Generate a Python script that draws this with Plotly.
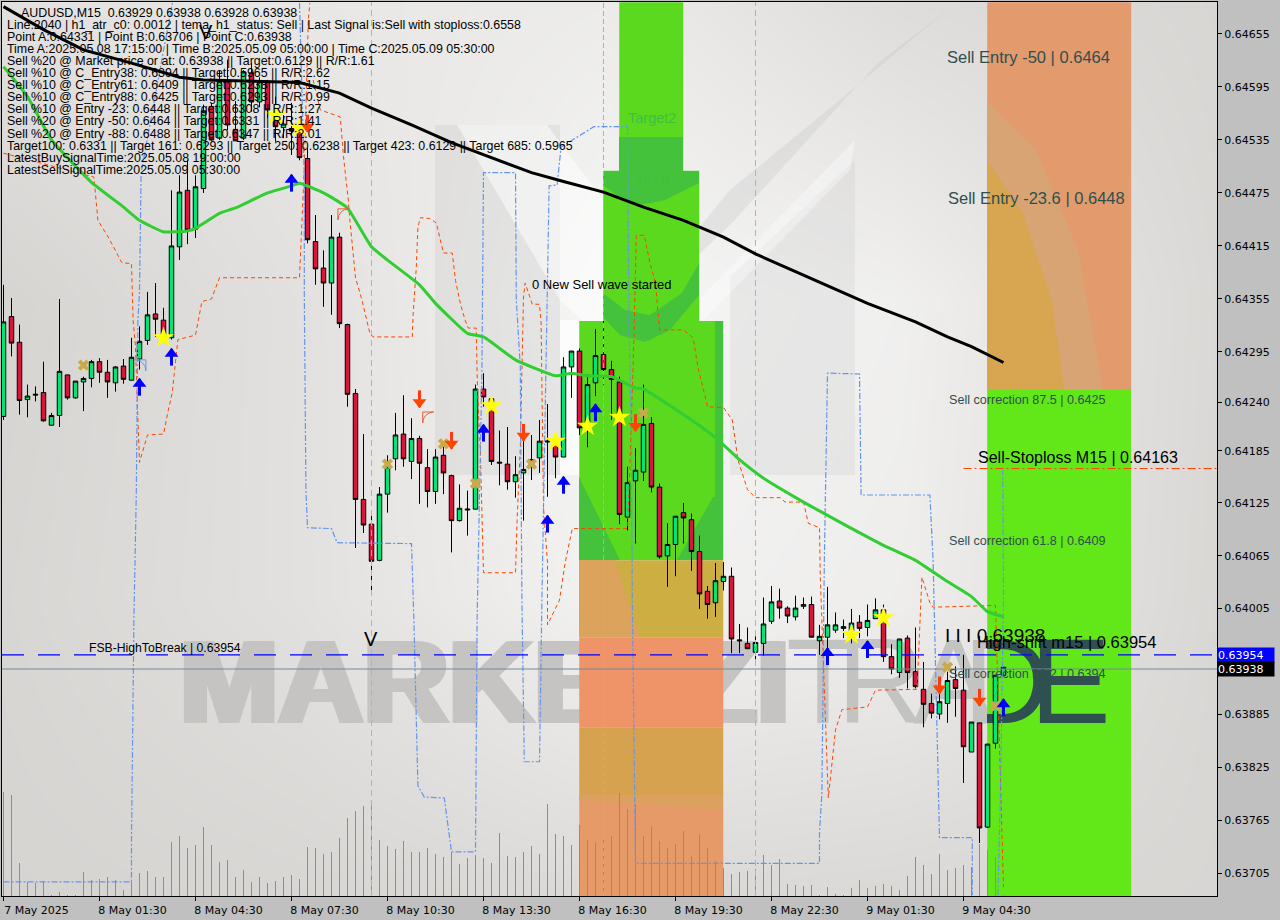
import plotly.graph_objects as go

# ---------- data ----------
opens = [.64222,.64335,.64306,.64241,.64246,.64249,.64212,.64223,.64269,.64243,.64261,.64265,.64284,.64272,.64260,.64279,.64263,.64287,.64308,.64338,.64331,.64311,.64414,.64478,.64434,.64480,.64573,.64537,.64601,.64547,.64537,.64611,.64578,.64600,.64560,.64549,.64548,.64544,.64514,.64420,.64390,.64373,.64425,.64326,.64248,.64128,.64100,.64059,.64134,.64174,.64202,.64171,.64197,.64164,.64137,.64178,.64155,.64104,.64116,.64117,.64253,.64242,.64169,.64168,.64148,.64158,.64173,.64175,.64193,.64192,.64176,.64278,.64296,.64215,.64260,.64292,.64275,.64261,.64108,.64149,.64159,.64214,.64142,.64064,.64077,.64113,.64105,.64069,.64024,.64011,.64035,.64041,.63969,.63965,.63955,.63965,.63990,.64013,.64005,.63995,.64007,.64009,.63968,.63972,.63980,.63982,.63978,.63989,.63983,.63993,.64003,.63950,.63932,.63971,.63933,.63913,.63897,.63885,.63897,.63924,.63912,.63842,.63875,.63757,.63852,.63929]
highs = [.64371,.64356,.64326,.64258,.64256,.64284,.64226,.64355,.64269,.64262,.64267,.64286,.64288,.64286,.64279,.64287,.64311,.64324,.64363,.64373,.64345,.64478,.64495,.64512,.64495,.64575,.64577,.64614,.64626,.64579,.64614,.64622,.64606,.64603,.64584,.64563,.64577,.64560,.64526,.64450,.64410,.64450,.64430,.64327,.64253,.64202,.64114,.64142,.64178,.64226,.64246,.64220,.64200,.64185,.64185,.64188,.64156,.64145,.64138,.64258,.64271,.64242,.64206,.64210,.64177,.64201,.64201,.64218,.64236,.64194,.64289,.64296,.64299,.64270,.64321,.64330,.64285,.64267,.64165,.64186,.64258,.64221,.64146,.64101,.64109,.64124,.64112,.64087,.64030,.64056,.64057,.64051,.63987,.63983,.63973,.64017,.64030,.64027,.64007,.64019,.64017,.64018,.63986,.64029,.64000,.63992,.64004,.63997,.64009,.64016,.64009,.63964,.63970,.63974,.63983,.63944,.63908,.63911,.63933,.63939,.63952,.63876,.63875,.63851,.63929,.63938]
lows = [.64218,.64290,.64224,.64221,.64239,.64216,.64212,.64210,.64241,.64242,.64228,.64255,.64260,.64243,.64250,.64259,.64263,.64275,.64303,.64312,.64309,.64309,.64399,.64417,.64424,.64475,.64534,.64535,.64546,.64534,.64535,.64567,.64572,.64560,.64533,.64537,.64518,.64512,.64418,.64371,.64346,.64337,.64322,.64233,.64073,.64090,.64022,.64058,.64113,.64161,.64165,.64151,.64123,.64119,.64123,.64134,.64068,.64103,.64087,.64117,.64233,.64167,.64144,.64139,.64130,.64104,.64150,.64158,.64131,.64152,.64176,.64243,.64201,.64187,.64245,.64258,.64218,.64100,.64093,.64078,.64149,.64136,.64061,.64029,.64041,.64078,.64047,.64004,.63993,.63995,.64025,.63954,.63954,.63959,.63947,.63951,.63987,.63993,.63988,.63991,.64004,.63972,.63952,.63954,.63977,.63971,.63965,.63971,.63973,.63993,.63944,.63930,.63926,.63914,.63914,.63870,.63880,.63879,.63875,.63882,.63807,.63842,.63739,.63756,.63846,.63928]
closes = [.64329,.64305,.64240,.64245,.64247,.64217,.64223,.64273,.64243,.64262,.64265,.64284,.64272,.64261,.64278,.64264,.64289,.64307,.64337,.64332,.64311,.64415,.64476,.64433,.64482,.64568,.64535,.64603,.64552,.64534,.64612,.64578,.64601,.64569,.64550,.64553,.64545,.64515,.64422,.64389,.64373,.64425,.64327,.64247,.64128,.64099,.64058,.64134,.64165,.64201,.64174,.64197,.64169,.64137,.64176,.64158,.64104,.64118,.64117,.64253,.64244,.64171,.64170,.64148,.64156,.64162,.64166,.64194,.64194,.64176,.64278,.64296,.64209,.64258,.64291,.64275,.64264,.64111,.64147,.64161,.64213,.64142,.64063,.64077,.64109,.64107,.64069,.64021,.64009,.64036,.64041,.63970,.63968,.63959,.63966,.63987,.64012,.64005,.63996,.64005,.64009,.63972,.63973,.63986,.63986,.63984,.63988,.63982,.63991,.64003,.63950,.63936,.63970,.63932,.63916,.63896,.63886,.63899,.63923,.63914,.63848,.63876,.63756,.63851,.63929,.63938]
volumes = [104,101,33,14,13,15,1,4,1,1,24,16,17,19,16,6,14,23,25,19,19,54,60,48,51,69,51,34,36,19,26,14,19,13,15,19,21,17,49,48,42,44,58,78,85,90,92,56,50,47,55,44,44,48,42,39,44,32,38,41,38,33,63,40,39,44,50,42,92,62,60,51,71,56,54,58,60,103,87,92,60,70,55,48,52,65,40,62,48,35,28,22,24,25,27,41,31,37,12,11,10,11,1,9,2,1,8,16,8,10,12,10,6,20,39,31,22,42,26,28,31,29,52,46,39,1]

ma_idx = [0,3,6,11,15,17,20,23,24,27,29,33,36,37,40,41,43,46,48,52,54,58,60,64,69,71,73,76,79,80,86,89,92,95,100,105,110,114,118,121,123,125]
ma_val = [.64618,.64584,.64535,.64487,.64459,.64444,.64431,.64432,.64435,.64452,.64458,.64475,.64483,.64486,.64475,.64470,.64458,.64414,.64399,.64371,.64350,.64316,.64312,.64286,.64268,.64271,.64268,.64267,.64254,.64253,.64218,.64198,.64173,.64152,.64125,.64100,.64076,.64059,.64035,.64018,.64001,.63995]
slow_idx = [0,5,10,16,22,25,37,42,46,51,56,61,66,70,75,80,85,90,94,99,104,108,114,118,121,125]
slow_val = [.64686,.64660,.64637,.64622,.64606,.64603,.64600,.64588,.64571,.64552,.64532,.64515,.64498,.64488,.64476,.64459,.64444,.64425,.64406,.64386,.64366,.64350,.64329,.64312,.64301,.64283]

orange_idx = [0,11.3,11.8,13.1,14.8,16,16.2,16.5,16.7,17,18,20,20.6,21.1,21.5,21.8,24,24.8,26,27,37,37.6,38.1,38.3,None,38.7,39.6,42.1,42.5,43.1,43.3,44,44.8,45.8,46.2,51.1,51.2,51.6,51.8,52.1,53.3,54.1,54.6,55,56.1,56.5,57.1,57.7,58.1,59.1,59.2,59.3,59.6,59.8,60,64,64.2,64.6,65,65.2,66.1,67,67.2,67.5,68,68,69.5,70.2,71.1,78,78.3,78.8,79.1,80.1,80.8,81.5,82,85,86.2,86.8,88,90,91.1,91.8,93,94,97.1,97.7,100,100.6,102,102.1,102.6,103.1,104,104.8,108,109,114.2,114.8,115.8,116.2,124,124.2,124.6,125]
orange_val = [.64520,.64493,.64444,.64425,.64396,.64395,.64331,.64301,.64244,.64170,.64201,.64202,.64229,.64249,.64284,.64309,.64314,.64352,.64355,.64379,.64379,.64504,.64671,.64690,None,.64603,.64569,.64561,.64516,.64467,.64444,.64379,.64354,.64316,.64312,.64312,.64337,.64391,.64436,.64447,.64446,.64441,.64422,.64407,.64407,.64376,.64350,.64331,.64322,.64322,.64271,.64241,.64184,.64101,.64045,.64045,.64105,.64187,.64357,.64373,.64349,.64349,.64328,.64119,.64056,.63986,.64014,.64056,.64095,.64095,.64165,.64309,.64427,.64427,.64396,.64373,.64320,.64320,.64311,.64278,.64233,.64232,.64218,.64173,.64139,.64130,.64130,.64125,.64125,.64101,.64096,.64040,.63909,.63790,.63867,.63890,.63893,.63912,.63913,.64040,.64011,.64006,.64008,.63946,.63796,.63689]
blue_idx = [0,16,16,16.3,16.6,16.7,16.8,17,17.2,21.1,None,37,37.6,37.6,37.8,38,41,41.7,51,51.3,51.8,52.6,55.1,56,59,59.2,59.5,59.8,60,64,64.1,64.6,64.8,65.1,67,67.2,67.3,68,68.2,69.2,69.7,73.8,78,78.2,78.5,78.6,79,79,102,102,102.3,102.6,103,107,107.2,115.8,116.2,116.7,117,121.1,121.1,None,124.3,124.6,125,124.9]
blue_val = [.63695,.63695,.63742,.63992,.64135,.64244,.64331,.64362,.64498,.64690,None,.64690,.64493,.64362,.64139,.64096,.64095,.64079,.64078,.63992,.63804,.63791,.63790,.63729,.63729,.63992,.64135,.64271,.64498,.64498,.64354,.64278,.64014,.63831,.63831,.63992,.64014,.64376,.64483,.64484,.64527,.64550,.64550,.64316,.64199,.64014,.63768,.63716,.63716,.63750,.63796,.64056,.64271,.64270,.64133,.64133,.64059,.63864,.63745,.63745,.63680,None,.63680,.63788,.64014,.64161]

star_idx = [20,34,37,61,69,73,77,106,110]
star_val = [.64311,.64563,.64549,.64234,.64194,.64211,.64221,.63975,.63994]
cross_idx = [10,48,55,59,66,80,118,124]
cross_val = [.64280,.64168,.64191,.64146,.64168,.64226,.63938,.63894]
buy_idx = [17,21,36,60,68,70,74,103,108,125]
buy_val = [.64255,.64289,.64486,.64203,.64100,.64144,.64226,.63950,.63958,.63892]
sell_idx = [38,52,56,65,79,117,122]
sell_val = [.64554,.64242,.64195,.64204,.64215,.63918,.63904]

tick_idx = [0,12,24,36,48,60,72,84,96,108,120]
tick_txt = ["7 May 2025","8 May 01:30","8 May 04:30","8 May 07:30","8 May 10:30","8 May 13:30","8 May 16:30","8 May 19:30","8 May 22:30","9 May 01:30","9 May 04:30"]
ytick_val = [.64655,.64595,.64535,.64475,.64415,.64355,.64295,.64238,.64183,.64124,.64064,.64005,.63885,.63825,.63765,.63705]
ytick_txt = ["0.64655","0.64595","0.64535","0.64475","0.64415","0.64355","0.64295","0.64240","0.64185","0.64125","0.64065","0.64005","0.63885","0.63825","0.63765","0.63705"]

level_high = 0.63952
level_bid = 0.63936
level_stop = 0.64163

# block rectangles: start bar, end bar, bottom price, top price, colour
blocks = [
 (76.97, 84.97, .64500, .64691, "#5bd91f"),
 (74.97, 86.97, .64330, .64500, "#5bd91f"),
 (71.97, 89.97, .64059, .64330, "#5bd91f"),
 (71.97, 89.97, .63972, .64059, "#cdae42"),
 (71.97, 89.97, .63870, .63972, "#ee9468"),
 (71.97, 89.97, .63793, .63870, "#d7a24f"),
 (71.97, 89.97, .63679, .63793, "#e59a68"),
 (122.96, 140.96, .64252, .64691, "#e39a6d"),
 (122.96, 140.96, .63679, .64252, "#62e818"),
]

top_lines = [
 "AUDUSD,M15\u00a0\u00a00.63929 0.63938 0.63928 0.63938",
 "Line:2040 | h1_atr_c0: 0.0012 | tema_h1_status: Sell | Last Signal is:Sell with stoploss:0.6558",
 "Point A:0.64331 | Point B:0.63706 | Point C:0.63938",
 "Time A:2025.05.08 17:15:00 | Time B:2025.05.09 05:00:00 | Time C:2025.05.09 05:30:00",
 "Sell %20 @ Market price or at: 0.63938 || Target:0.6129 || R/R:1.61",
 "Sell %10 @ C_Entry38: 0.6394 || Target:0.5965 || R/R:2.62",
 "Sell %10 @ C_Entry61: 0.6409 || Target:0.6238 || R/R:1.15",
 "Sell %10 @ C_Entry88: 0.6425 || Target:0.6293 || R/R:0.99",
 "Sell %10 @ Entry -23: 0.6448 || Target:0.6308 || R/R:1.27",
 "Sell %20 @ Entry -50: 0.6464 || Target:0.6331 || R/R:1.41",
 "Sell %20 @ Entry -88: 0.6488 || Target:0.6347 || R/R:2.01",
 "Target100: 0.6331 || Target 161: 0.6293 || Target 250: 0.6238 || Target 423: 0.6129 || Target 685: 0.5965",
 "LatestBuySignalTime:2025.05.08 19:00:00",
 "LatestSellSignalTime:2025.05.09 05:30:00",
]

# ---------- geometry of the plot frame ----------
PL, PR, PT, PB = 2, 1217, 2, 896
X_RANGE = [(PL-3.5)/8, (PR-3.5)/8]
Y_RANGE = [.636790, .646912]

fig = go.Figure()

# --- layer 1: background, logo, watermark (pixel axes x/y)
bg_x = [2,300,600,900,1217]
bg_y = [2,300,600,896]
bg_z = [[226,232,236,222,216],[214,226,246,240,218],[216,226,242,238,217],[214,216,220,218,216]]
fig.add_trace(go.Heatmap(x=bg_x,y=bg_y,z=bg_z,zmin=212,zmax=250,zsmooth="best",showscale=False,hoverinfo="skip",
    colorscale=[[0,"rgb(212,210,207)"],[1,"rgb(250,250,250)"]],xaxis="x",yaxis="y"))

def poly(pts,color,xa="x",ya="y"):
    return go.Scatter(x=[p[0] for p in pts]+[pts[0][0]],y=[p[1] for p in pts]+[pts[0][1]],mode="lines",fill="toself",
                      fillcolor=color,line=dict(width=0),hoverinfo="skip",xaxis=xa,yaxis=ya,showlegend=False)

fig.add_trace(poly([(435,125),(560,125),(560,475),(435,475)],"rgba(200,200,200,0.30)"))
fig.add_trace(poly([(457,125),(547,125),(603,200),(603,340),(560,300)],"rgba(255,255,255,0.5)"))
fig.add_trace(poly([(730,277),(855,160),(855,475),(730,475)],"rgba(200,200,200,0.25)"))
fig.add_trace(poly([(951,7),(878,63),(730,225),(603,345),(730,190),(818,118)],"rgba(195,195,195,0.3)"))
fig.add_trace(poly([(855,140),(605,395),(625,400),(850,170)],"rgba(255,255,255,0.35)"))
fig.add_trace(poly([(560,320),(579,320),(579,475),(560,475)],"rgba(255,255,255,0.7)"))

WM = "#c5c4c2"
WM2 = "#c3c3c1"
# the heavy watermark word: the same word three times, a few pixels apart, to thicken its strokes
for dx in (0,4,8):
    fig.add_trace(go.Scatter(x=[176+dx],y=[693],mode="text",text=["MARKETZI"],textposition="middle right",
        textfont=dict(family="Liberation Sans",size=118,color=WM,weight="bold"),xaxis="x",yaxis="y",hoverinfo="skip",showlegend=False))
fig.add_trace(go.Scatter(x=[786,837,913,963],y=[693]*4,mode="text",text=["T","R","A","D"],textposition="middle right",
    textfont=dict(family="Liberation Sans",size=121,color=WM2),xaxis="x",yaxis="y",hoverinfo="skip",showlegend=False))

# --- layer 2: time/price blocks
for b in blocks:
    fig.add_trace(go.Bar(x=[(b[0]+b[1])/2],y=[b[3]-b[2]],base=[b[2]],width=[b[1]-b[0]],marker=dict(color=b[4],line=dict(width=0)),
                         xaxis="x2",yaxis="y2",hoverinfo="skip",showlegend=False))

# --- layer 3: shade patterns on the blocks (pixel axes)
DG = "#44c23c"
for pts,c in [
    ([(619,137),(683,137),(683,171),(619,171)],DG),
    ([(603,171),(699,171),(699,183),(665,200),(640,205),(619,197),(603,185)],DG),
    ([(603,293),(625,310),(650,315),(682,293),(699,263),(699,295),(670,330),(645,342),(620,335),(603,317)],DG),
    ([(715,321),(723,321),(723,560),(715,560)],DG),
    ([(579,477),(620,560),(579,560)],DG),
    ([(713,497),(677,560),(723,560),(723,497)],DG),
    ([(579,560),(615,560),(640,637),(579,637)],"#dba35c"),
    ([(987,100),(1036,150),(1078,250),(1103,390),(987,390)],"#d9a474"),
    ([(987,160),(1023,213),(1052,300),(1064,390),(987,390)],"#d8a550"),
    ([(579,795),(723,795),(723,810),(579,800)],"#dca15e"),
    ]:
    fig.add_trace(poly(pts,c,"x3","y3"))

# --- layer 4: dark watermark clipped to the right block
fig.add_trace(go.Scatter(x=[963,1030],y=[693,693],mode="text",text=["D","E"],textposition="middle right",
    textfont=dict(family="Liberation Sans",size=121,color="#2f5050"),xaxis="x4",yaxis="y4",hoverinfo="skip",showlegend=False))

# --- layer 5: volume
vx, vy = [], []
for k,v in enumerate(volumes):
    vx += [k,k,None]
    vy += [0,v,None]
fig.add_trace(go.Scatter(x=vx,y=vy,mode="lines",line=dict(color="#32cd32",width=1),
                     xaxis="x5",yaxis="y5",hoverinfo="skip",showlegend=False))

# --- layer 6: main chart
idx = list(range(len(opens)))
fig.add_trace(go.Candlestick(x=idx,open=opens,high=highs,low=lows,close=closes,xaxis="x6",yaxis="y6",whiskerwidth=0,
    increasing=dict(line=dict(color="black",width=1),fillcolor="#00e676"),
    decreasing=dict(line=dict(color="black",width=1),fillcolor="#dc143c"),showlegend=False,hoverinfo="skip"))

def xy(**kw):
    return dict(xaxis="x6",yaxis="y6",hoverinfo="skip",showlegend=False,**kw)

for c,col,dash in [(46,"#00ffff","6px,4px"),(94,"#00ffff","6px,4px"),(75,"#f59a6a","5px,3px")]:
    fig.add_trace(go.Scatter(x=[c,c],y=Y_RANGE,mode="lines",line=dict(color=col,width=1,dash=dash),**xy()))
fig.add_trace(go.Scatter(x=orange_idx,y=orange_val,mode="lines",connectgaps=False,line=dict(color="#ff4500",width=1,dash="4px,3px"),**xy()))
fig.add_trace(go.Scatter(x=blue_idx,y=blue_val,mode="lines",connectgaps=False,line=dict(color="#6495ed",width=1.2,dash="6px,2px,2px,2px"),**xy()))
fig.add_trace(go.Scatter(x=[X_RANGE[0],X_RANGE[1]],y=[level_high]*2,mode="lines",line=dict(color="#0000ff",width=1.3,dash="22px,14px"),**xy()))
fig.add_trace(go.Scatter(x=[X_RANGE[0],X_RANGE[1]],y=[level_bid]*2,mode="lines",line=dict(color="#778899",width=1),**xy()))
fig.add_trace(go.Scatter(x=[120,X_RANGE[1]],y=[level_stop]*2,mode="lines",line=dict(color="#ff4500",width=1,dash="8px,3px,2px,3px"),**xy()))
fig.add_trace(go.Scatter(x=ma_idx,y=ma_val,mode="lines",line=dict(color="#32cd32",width=3,shape="spline",smoothing=0.4),**xy()))
fig.add_trace(go.Scatter(x=slow_idx,y=slow_val,mode="lines",line=dict(color="black",width=3),**xy()))
fig.add_trace(go.Scatter(x=cross_idx,y=cross_val,mode="markers",marker=dict(symbol="x",size=10,color="#c9a94f",line=dict(width=0)),**xy()))
fig.add_trace(go.Scatter(x=star_idx,y=star_val,mode="markers",marker=dict(symbol="star",size=16,color="#ffff00",line=dict(width=0)),**xy()))

# arrows: a head and a stem drawn from the arrow value
HEAD = 0.00004
fig.add_trace(go.Scatter(x=buy_idx,y=buy_val,mode="markers",marker=dict(symbol="line-ns-open",size=12,color="#0000ff",line=dict(width=3,color="#0000ff")),**xy()))
fig.add_trace(go.Scatter(x=buy_idx,y=[v+HEAD for v in buy_val],mode="markers",marker=dict(symbol="triangle-up",size=12,color="#0000ff",line=dict(width=0)),**xy()))
fig.add_trace(go.Scatter(x=sell_idx,y=sell_val,mode="markers",marker=dict(symbol="line-ns-open",size=12,color="#ff3a10",line=dict(width=3,color="#ff3a10")),**xy()))
fig.add_trace(go.Scatter(x=sell_idx,y=[v-HEAD for v in sell_val],mode="markers",marker=dict(symbol="triangle-down",size=12,color="#ff4500",line=dict(width=0)),**xy()))
fig.add_trace(go.Scatter(x=[17.8],y=[.64286],mode="markers",marker=dict(symbol="arrow-wide-open",angle=45,size=11,color="#6495ed",line=dict(width=1,color="#6495ed")),**xy()))
fig.add_trace(go.Scatter(x=[52.4,41.8],y=[.64227,.64457],mode="markers",marker=dict(symbol="arrow-wide-open",angle=-45,size=11,color="#e8603c",line=dict(width=1,color="#e8603c")),**xy()))

# ---------- text ----------
def ann(text,x,y,size,color="black",family="Liberation Sans",**kw):
    d=dict(text=text,x=(x-2-PL)/(PR-PL),y=1-(y-PT)/(PB-PT),xref="paper",yref="paper",showarrow=False,xanchor="left",yanchor="middle",
           font=dict(family=family,size=size,color=color),align="left")
    d.update(kw)
    return d

anns=[]
for k,t in enumerate(top_lines):
    anns.append(ann(t,21 if k==0 else 7,13+12.05*k if k else 13,12.4))
anns += [
 ann("0 New Sell wave started",532,284,13),
 ann("Target2",628,118,14.5,"#3fbf3f"),
 ann("161.8",636,179,13.5,"#3fbf3f"),
 ann("V",364,639,20),
 ann("V",199,32,20),
 ann("FSB-HighToBreak | 0.63954",89,648,12.2),
 ann("Sell Entry -50 | 0.6464",947,57,16.5,"#2f4f4f"),
 ann("Sell Entry -23.6 | 0.6448",948,198,16.5,"#2f4f4f"),
 ann("Sell correction 87.5 | 0.6425",949,400,12.6,"#2f4f4f"),
 ann("Sell correction 61.8 | 0.6409",949,541,12.6,"#2f4f4f"),
 ann("Sell correction 38.2 | 0.6394",949,674,12.6,"#2f4f4f"),
 ann("Sell-Stoploss M15 | 0.64163",978,457,16),
 ann("High-shift m15 | 0.63954",977,642,16.5),
 ann("I I I 0.63938",945,635,19),
 ann("0.63954",1248,655,11,"white","DejaVu Sans",xanchor="center",bgcolor="#0000ff",width=56,height=14,borderpad=0),
 ann("0.63938",1248,668.5,11,"white","DejaVu Sans",xanchor="center",bgcolor="#000000",width=56,height=14,borderpad=0),
]

hidden=dict(visible=False,fixedrange=True)
layout=dict(
 width=1280,height=920,margin=dict(l=PL,r=1280-PR,t=PT,b=920-PB,pad=0),
 paper_bgcolor="#c0c0c0",plot_bgcolor="rgba(0,0,0,0)",showlegend=False,barmode="overlay",boxgap=0.2,hovermode=False,
 xaxis=dict(range=[PL,PR],domain=[0,1],**hidden),yaxis=dict(range=[PB,PT],domain=[0,1],anchor="x",**hidden),
 xaxis2=dict(range=X_RANGE,domain=[0,1],anchor="y2",**hidden),yaxis2=dict(range=Y_RANGE,domain=[0,1],anchor="x2",**hidden),
 xaxis3=dict(range=[PL,PR],domain=[0,1],anchor="y3",**hidden),yaxis3=dict(range=[PB,PT],domain=[0,1],anchor="x3",**hidden),
 xaxis4=dict(range=[987,1131],domain=[(987-PL)/(PR-PL),(1131-PL)/(PR-PL)],anchor="y4",**hidden),yaxis4=dict(range=[PB,PT],domain=[0,1],anchor="x4",**hidden),
 xaxis5=dict(range=X_RANGE,domain=[0,1],anchor="y5",**hidden),yaxis5=dict(range=[0,PB-PT],domain=[0,1],anchor="x5",**hidden),
 xaxis6=dict(range=X_RANGE,domain=[0,1],anchor="y6",rangeslider=dict(visible=False),tickmode="array",tickvals=tick_idx,ticktext=tick_txt,
             ticks="outside",ticklen=4,tickcolor="black",ticklabelshift=33,showgrid=False,zeroline=False,showline=True,linecolor="black",linewidth=1,mirror=True,
             tickfont=dict(family="DejaVu Sans",size=11,color="black"),tickangle=0,fixedrange=True),
 yaxis6=dict(range=Y_RANGE,domain=[0,1],anchor="x6",side="right",tickmode="array",tickvals=ytick_val,ticktext=ytick_txt,
             ticks="outside",ticklen=4,tickcolor="black",showgrid=False,zeroline=False,showline=True,linecolor="black",linewidth=1,mirror=True,
             tickfont=dict(family="DejaVu Sans",size=11,color="black"),fixedrange=True),
 annotations=anns,
)
fig.update_layout(**layout)
fig.write_html("out.html",post_script="document.body.style.margin='0';",config=dict(displayModeBar=False))
